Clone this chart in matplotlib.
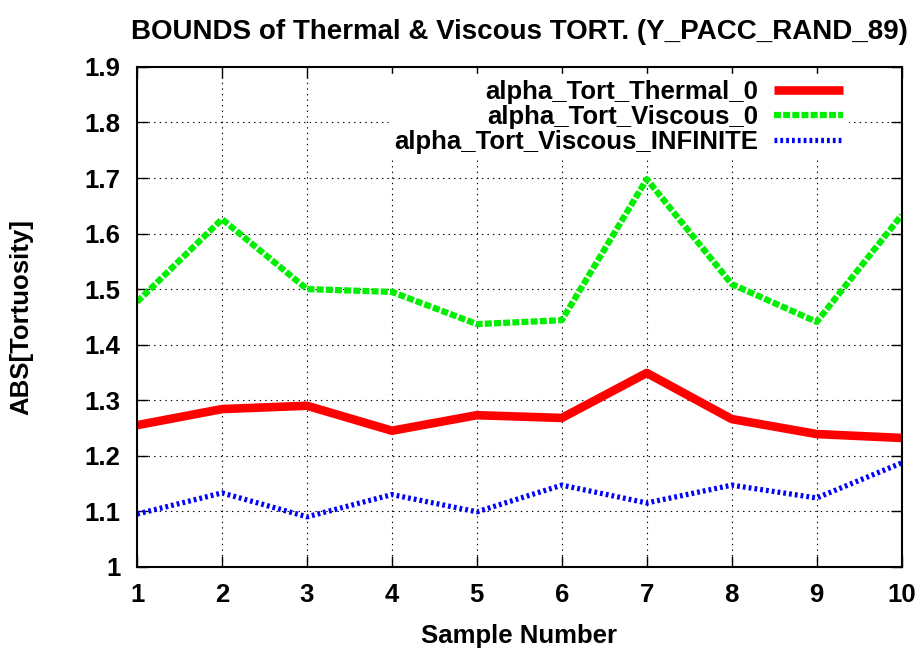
import matplotlib
matplotlib.use('Agg')
import matplotlib.pyplot as plt

plt.rcParams['font.family'] = ['Liberation Sans', 'DejaVu Sans']
plt.rcParams['font.weight'] = 'bold'
plt.rcParams['lines.scale_dashes'] = False

# tortuosity bounds per sample
samples = [1, 2, 3, 4, 5, 6, 7, 8, 9, 10]
tort_thermal_0 = [1.255, 1.284, 1.290, 1.245, 1.273, 1.268, 1.349, 1.266, 1.239, 1.232]
tort_viscous_0 = [1.477, 1.626, 1.500, 1.495, 1.437, 1.444, 1.698, 1.509, 1.441, 1.633]
tort_viscous_inf = [1.095, 1.133, 1.090, 1.130, 1.099, 1.147, 1.115, 1.147, 1.124, 1.187]

yticks = [1, 1.1, 1.2, 1.3, 1.4, 1.5, 1.6, 1.7, 1.8, 1.9]
ytick_labels = ['1', '1.1', '1.2', '1.3', '1.4', '1.5', '1.6', '1.7', '1.8', '1.9']

fig = plt.figure(figsize=(9.2, 6.5), dpi=100)
ax = fig.add_axes([0.149, 0.128, 0.831, 0.769])

ax.plot(samples, tort_thermal_0, color='#ff0000', lw=6.2, solid_capstyle='butt',
        label='alpha_Tort_Thermal_0')
ax.plot(samples, tort_viscous_0, color='#00ee00', lw=4.5, dashes=(5, 1.6),
        dash_capstyle='butt', label='alpha_Tort_Viscous_0')
ax.plot(samples, tort_viscous_inf, color='#0000ff', lw=3.8, dashes=(2.0, 2.2),
        dash_capstyle='butt', label='alpha_Tort_Viscous_INFINITE')

ax.set_xlim(1, 10)
ax.set_ylim(1, 1.9)
ax.set_xticks(samples)
ax.set_yticks(yticks)
ax.set_yticklabels(ytick_labels)
ax.grid(True, color='black', linestyle=(0, (1, 3)), linewidth=0.8)
ax.set_axisbelow(True)

ax.tick_params(direction='in', length=8, width=1, top=True, right=True,
               labelsize=18.5, pad=12)
for s in ax.spines.values():
    s.set_linewidth(1.5)

ax.set_title('BOUNDS of Thermal & Viscous TORT. (Y_PACC_RAND_89)',
             fontsize=20, fontweight='bold', pad=20)
ax.set_xlabel('Sample Number', fontsize=18.5, fontweight='bold', labelpad=12)
ax.set_ylabel('ABS[Tortuosity]', fontsize=18.5, fontweight='bold', labelpad=37)

leg = ax.legend(loc='upper right', bbox_to_anchor=(0.930, 0.985),
                markerfirst=False, frameon=True, fontsize=18.5,
                handlelength=2.7, handletextpad=0.6, labelspacing=0.05,
                borderaxespad=0.0, borderpad=0.2, fancybox=False)
leg.get_frame().set_edgecolor('white')
leg.get_frame().set_alpha(1)

fig.savefig('out.png', dpi=100)
